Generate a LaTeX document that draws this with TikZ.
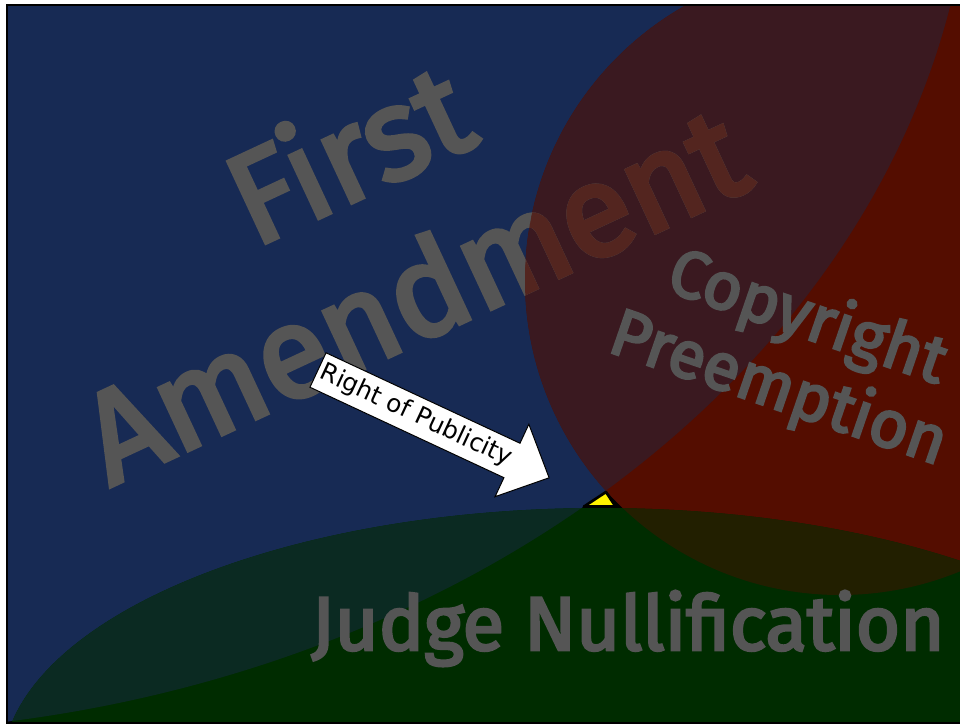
\documentclass[tikz,border=0pt]{standalone}
\usepackage{fontspec}
\newfontfamily\bigfont{Fira Sans}[FakeBold=3.5]
\newfontfamily\arrowfont{DejaVu Sans}
\definecolor{cblue}{HTML}{172A54}
\definecolor{cred}{HTML}{540D00}
\definecolor{cgreen}{HTML}{002C00}
\definecolor{cbluered}{HTML}{3A1920}
\definecolor{cbluegreen}{HTML}{0B2A22}
\definecolor{credgreen}{HTML}{221F00}
\definecolor{textgray}{HTML}{555555}
\definecolor{textred}{HTML}{53251F}
\begin{document}
\begin{tikzpicture}[x=0.75pt,y=-0.75pt,
  lbl/.style={text=textgray, inner sep=0pt, anchor=base},
  fa/.style={lbl, font=\bigfont\fontsize{97}{100}\selectfont, rotate=25},
  cp/.style={lbl, font=\bigfont\fontsize{50}{53}\selectfont, rotate=-19},
  jn/.style={lbl, font=\bigfont\fontsize{57}{60}\selectfont}]
\useasboundingbox (0,0) rectangle (960,726);
\fill[white] (0,0) rectangle (960,726);
\begin{scope}
  \clip (6.7,4.7) rectangle (960,722.9);
  \fill[black] (0,0) rectangle (960,726);
  \fill[cblue] (-175,-175) ellipse [x radius=1148, y radius=908];
  \fill[cred] (840,280) circle [radius=315];
  \fill[cgreen] (600,770) ellipse [x radius=598, y radius=262];
  \begin{scope}
    \clip (-175,-175) ellipse [x radius=1148, y radius=908];
    \fill[cbluered] (840,280) circle [radius=315];
    \fill[cbluegreen] (600,770) ellipse [x radius=598, y radius=262];
  \end{scope}
  \begin{scope}
    \clip (840,280) circle [radius=315];
    \fill[credgreen] (600,770) ellipse [x radius=598, y radius=262];
  \end{scope}
  % First Amendment (under the red circle)
  \node[fa] (fa1) at (368,195) {First};
  \node[fa] (fa2) at (433,336) {Amendment};
  \begin{scope}
    \clip (840,280) circle [radius=315];
    \node[fa, text=textred] (fa1r) at (368,195) {First};
    \node[fa, text=textred] (fa2r) at (433,336) {Amendment};
  \end{scope}
  % other labels
  \node[cp] (cp1) at (801,337) {Copyright};
  \node[cp] (cp2) at (772,408) {Preemption};
  \node[jn] (jn) at (628,650) {Judge Nullification};
  % arrow
  \begin{scope}[shift={(318,370)}, rotate=-25]
    \draw[fill=white, line width=0.75pt, line join=miter]
      (0,-19) -- (214,-19) -- (214,-40) -- (255,0) -- (214,40) -- (214,19) -- (0,19) -- cycle;
    \node[rotate=-25, font=\arrowfont\fontsize{18.5}{20}\selectfont, inner sep=0pt] (rop) at (108,0) {Right of Publicity};
  \end{scope}
  % gap marker
  \draw[fill=yellow, line width=2pt, line join=round] (606,492) -- (584,506.5) -- (615.5,506.5) -- cycle;
\end{scope}
\draw[line width=1.5pt] (960,4.7) -- (6.7,4.7) -- (6.7,722.9) -- (960,722.9);
\end{tikzpicture}
\end{document}
